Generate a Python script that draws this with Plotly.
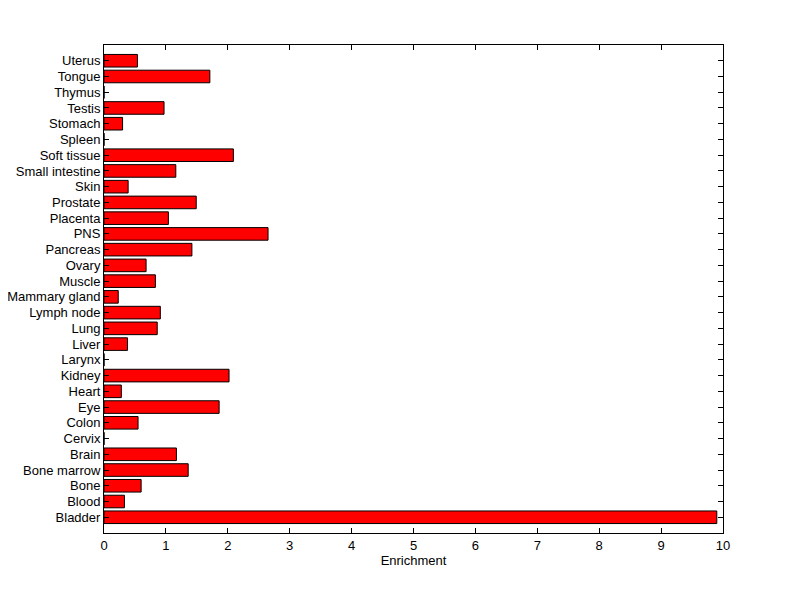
import plotly.graph_objects as go

tissues = ["Bladder", "Blood", "Bone", "Bone marrow", "Brain", "Cervix", "Colon", "Eye",
           "Heart", "Kidney", "Larynx", "Liver", "Lung", "Lymph node", "Mammary gland",
           "Muscle", "Ovary", "Pancreas", "PNS", "Placenta", "Prostate", "Skin",
           "Small intestine", "Soft tissue", "Spleen", "Stomach", "Testis", "Thymus",
           "Tongue", "Uterus"]
enrichment = [9.9, 0.33, 0.60, 1.36, 1.17, 0.0, 0.55, 1.86,
              0.28, 2.02, 0.0, 0.38, 0.86, 0.91, 0.23,
              0.83, 0.68, 1.42, 2.65, 1.04, 1.49, 0.39,
              1.16, 2.09, 0.0, 0.30, 0.97, 0.0,
              1.71, 0.54]
x_ticks = list(range(0, 11))

fig = go.Figure(go.Bar(
    x=enrichment,
    y=list(range(len(tissues))),
    orientation="h",
    width=0.8,
    marker=dict(color="#FF0000", line=dict(color="black", width=1)),
))

font = dict(family="Liberation Sans, Arial, sans-serif", size=13, color="black")

fig.update_layout(
    width=800, height=599,
    margin=dict(l=96, r=85, t=37, b=74),
    paper_bgcolor="white", plot_bgcolor="white",
    font=font,
    showlegend=False,
    bargap=0.2,
)
fig.update_xaxes(
    range=[0, 10], tickvals=x_ticks, ticktext=[str(v) for v in x_ticks],
    ticks="inside", ticklen=5, tickcolor="black",
    showline=True, linecolor="black", linewidth=1, mirror="allticks",
    showgrid=False, zeroline=False, automargin=False,
    title=dict(text="Enrichment", font=font, standoff=4),
)
fig.update_yaxes(
    range=[-1, 30], tickvals=list(range(len(tissues))), ticktext=tissues,
    ticks="inside", ticklen=5, tickcolor="black",
    showline=True, linecolor="black", linewidth=1, mirror="allticks",
    showgrid=False, zeroline=False, automargin=False,
)

fig.write_html("out.html")
